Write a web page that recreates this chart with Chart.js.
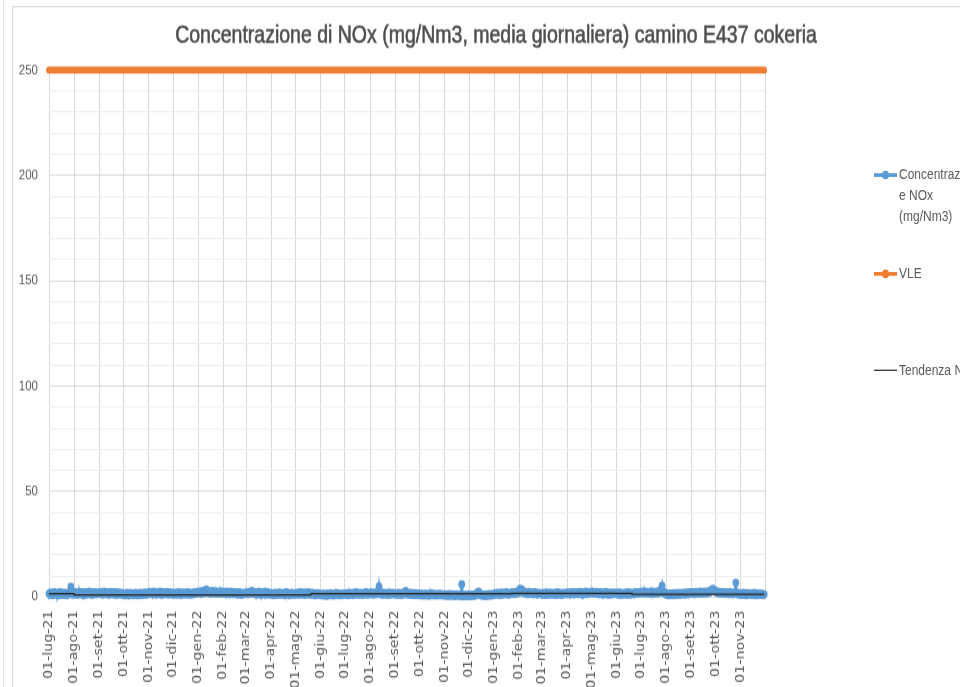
<!DOCTYPE html>
<html>
<head>
<meta charset="utf-8">
<title>Concentrazione di NOx camino E437 cokeria</title>
<script src="https://cdn.jsdelivr.net/npm/chart.js@4.4.1/dist/chart.umd.min.js"></script>
<style>
html,body{margin:0;padding:0;background:#fff;overflow:hidden;width:960px;height:687px;}
/* the original screenshot is stretched vertically, so the whole sheet is drawn flatter and scaled */
#stage{position:absolute;left:0;top:0;width:960px;height:563px;transform:scaleY(1.22);transform-origin:0 0;}
#sideLine{position:absolute;left:3px;top:0;width:1px;height:600px;background:#e3e3e3;}
#frame{position:absolute;left:12px;top:5px;width:1000px;height:700px;border:1px solid #d9d9d9;}
#chart{position:absolute;left:0;top:0;}
#legend{position:absolute;left:0;top:0;font-family:"Liberation Sans",Arial,sans-serif;font-size:12px;color:#595959;}
.item{position:absolute;left:874px;white-space:nowrap;line-height:16.8px;}
.sym{position:absolute;left:0;top:8.4px;width:23px;}
.sym .ln{position:absolute;left:0;width:23px;}
.sym .dot{position:absolute;left:8px;top:-3.5px;width:7px;height:7px;border-radius:50%;}
.txt{position:absolute;left:25px;top:0;}
</style>
</head>
<body>
<div id="stage">
  <div id="sideLine"></div>
  <div id="frame"></div>
  <canvas id="chart" width="960" height="563"></canvas>
  <div id="legend"></div>
</div>
<script>
const chartTitle = 'Concentrazione di NOx (mg/Nm3, media giornaliera) camino E437 cokeria';

// first day of the series: 01-lug-21, one value per day up to 30-nov-23
const startYear = 2021;
const startMonth = 6;

const monthLabels = ['01-lug-21','01-ago-21','01-set-21','01-ott-21','01-nov-21','01-dic-21',
  '01-gen-22','01-feb-22','01-mar-22','01-apr-22','01-mag-22','01-giu-22','01-lug-22','01-ago-22',
  '01-set-22','01-ott-22','01-nov-22','01-dic-22','01-gen-23','01-feb-23','01-mar-23','01-apr-23',
  '01-mag-23','01-giu-23','01-lug-23','01-ago-23','01-set-23','01-ott-23','01-nov-23'];

const noxDaily = [
  1.6,1.2,2.1,1.4,0.9,1.8,1.5,2.2,1.1,1.7,1.3,0.8,1.9,1.6,2.3,1.2,1.4,1.0,1.8,2.0,1.3,1.6,0.9,1.5,2.1,1.7,1.4,4.8,2.0,1.2,1.6, // lug-21
  1.9,1.4,2.2,1.7,1.1,2.0,1.6,2.4,1.3,1.8,2.1,1.5,0.9,1.7,2.3,1.9,1.2,1.6,2.0,2.5,1.4,1.8,1.1,1.7,2.2,1.5,1.9,1.3,2.1,1.6,1.8, // ago-21
  2.0,1.5,2.3,1.7,1.2,2.1,2.6,1.8,1.4,2.2,1.6,1.9,1.1,1.7,2.4,1.5,2.0,1.3,1.8,2.2,1.6,1.0,1.7,2.1,1.4,1.9,1.2,1.6,2.0,1.5, // set-21
  1.3,0.8,1.6,1.1,1.9,1.4,0.7,1.5,1.2,1.8,1.0,1.4,0.9,1.7,1.3,2.0,1.1,1.5,0.8,1.6,1.2,1.9,1.4,1.0,1.7,1.3,2.1,1.5,1.1,1.8,1.4, // ott-21
  1.9,2.4,1.6,2.2,1.3,1.8,2.6,1.5,2.0,1.2,1.7,2.3,1.4,1.9,2.5,1.6,1.1,1.8,2.2,1.5,2.0,1.3,1.7,2.4,1.6,1.2,1.9,1.5,2.1,1.4, // nov-21
  1.7,1.2,2.0,1.5,1.9,1.1,1.6,2.2,1.4,1.8,1.0,1.5,2.1,1.3,1.7,1.9,1.2,1.6,2.3,1.4,1.8,1.1,1.5,2.0,1.6,1.3,1.9,2.2,1.5,1.7,2.4, // dic-21
  2.1,2.6,1.8,2.3,1.6,2.8,2.2,1.9,2.5,2.9,3.6,2.4,2.0,2.7,1.7,2.2,2.5,1.9,2.8,2.1,1.6,2.4,2.0,2.6,1.8,2.3,1.5,2.1,2.7,1.9,2.2, // gen-22
  1.8,2.4,1.5,2.0,2.6,1.7,2.2,1.3,1.9,2.5,1.6,2.1,1.4,1.8,2.3,1.5,2.0,1.2,1.7,2.2,1.4,1.9,1.1,1.6,2.0,1.3,1.8,1.5, // feb-22
  1.6,2.1,1.3,1.8,2.4,1.5,2.0,2.8,2.5,1.9,2.3,1.4,1.7,2.2,1.2,1.8,2.6,1.5,2.0,1.1,1.7,2.3,1.4,1.9,2.5,1.6,1.2,1.8,2.1,1.3,1.7, // mar-22
  1.2,1.8,1.4,0.9,1.6,2.0,1.3,1.7,1.0,1.5,2.1,1.4,1.8,1.1,1.6,1.3,1.9,1.0,1.5,2.2,1.2,1.7,1.4,0.9,1.6,2.0,1.3,1.8,1.1,1.5, // apr-22
  1.8,1.3,2.0,1.5,1.1,1.7,2.3,1.4,1.9,1.2,1.6,2.1,1.0,1.5,1.8,1.3,2.2,1.6,1.1,1.7,1.4,1.9,1.2,1.5,0.9,1.6,1.3,1.8,1.0,1.4,1.2, // mag-22
  1.0,1.4,0.7,1.2,1.6,0.9,1.3,0.6,1.1,1.5,0.8,1.2,1.7,1.0,1.4,0.7,1.1,1.5,0.9,1.3,1.8,1.0,1.2,0.8,1.5,1.1,1.4,0.9,1.6,1.2, // giu-22
  1.5,1.1,1.8,1.3,0.9,1.6,2.0,1.2,1.7,1.4,1.0,1.9,1.3,1.6,2.2,1.1,1.5,1.8,1.2,1.4,2.0,1.6,1.0,1.7,1.3,1.9,2.3,1.5,1.2,1.8,1.4, // lug-22
  1.7,2.1,1.4,1.9,1.2,1.6,2.0,1.3,1.8,2.2,1.5,5.0,1.9,1.4,1.7,1.1,1.6,2.0,1.3,1.8,1.5,1.0,1.7,2.1,1.4,1.2,1.8,1.5,1.9,1.3,1.6, // ago-22
  1.4,1.8,1.1,1.6,2.0,1.3,1.7,1.0,1.5,1.9,1.2,1.6,2.4,2.9,1.8,1.4,1.1,1.7,1.3,1.9,1.0,1.5,1.2,1.8,1.4,0.9,1.6,1.3,1.7,1.1, // set-22
  1.2,0.8,1.5,1.0,1.3,0.7,1.6,1.1,0.9,1.4,1.2,0.6,1.3,1.0,1.7,0.8,1.2,1.5,0.9,1.1,1.4,0.7,1.0,1.3,0.8,1.6,1.1,0.9,1.2,0.7,1.0, // ott-22
  0.9,1.3,0.6,1.1,0.8,1.4,0.5,1.0,1.2,0.7,1.3,0.9,0.4,1.1,0.8,1.2,0.6,1.0,0.7,1.3,0.5,6.0,0.8,0.4,1.0,0.6,0.9,0.3,0.7,1.1, // nov-22
  0.6,1.0,0.4,0.8,1.1,0.5,0.9,1.2,0.7,1.4,1.8,2.3,2.6,1.5,1.0,0.7,1.2,0.8,1.1,0.5,0.9,1.3,0.6,1.0,0.8,1.4,1.1,0.7,1.2,0.9,1.3, // dic-22
  1.5,1.1,1.8,1.3,2.0,1.4,1.7,1.0,1.6,2.1,1.2,1.5,1.9,1.3,1.7,2.2,1.4,1.8,1.1,1.6,2.0,1.5,1.9,2.3,1.7,1.4,2.1,1.6,2.4,1.8,2.2, // gen-23
  3.2,3.8,2.9,3.5,2.4,2.0,2.6,1.8,2.2,1.6,2.0,1.4,1.9,2.3,1.5,1.8,2.1,1.3,1.7,2.2,1.6,1.9,1.2,1.8,2.0,1.5,1.7,1.3, // feb-23
  1.6,1.2,1.9,1.4,1.0,1.7,2.1,1.3,1.8,1.1,1.5,2.0,1.4,1.7,1.2,1.9,1.5,1.0,1.6,2.2,1.3,1.8,1.1,1.5,1.9,1.4,1.2,1.7,2.0,1.5,1.8, // mar-23
  1.9,1.4,2.1,1.6,1.2,1.8,2.2,1.5,1.9,1.3,1.7,2.3,1.6,2.0,1.4,1.8,2.4,1.5,1.9,1.2,1.7,2.1,1.6,2.5,1.9,1.4,2.0,1.7,2.2,1.8, // apr-23
  2.6,2.2,1.8,2.3,1.5,1.9,2.4,1.6,2.0,1.3,1.8,2.2,1.5,1.9,1.2,1.7,2.1,1.4,1.8,2.3,1.6,1.1,1.7,2.0,1.4,1.9,1.3,1.6,2.1,1.5,1.8, // mag-23
  1.4,1.9,1.2,1.7,2.1,1.5,1.0,1.8,1.3,1.6,2.0,1.4,1.9,1.1,1.7,2.2,1.5,1.2,1.8,1.4,2.0,1.6,1.3,1.9,2.3,1.7,1.5,2.1,1.8,2.4, // giu-23
  2.0,2.5,1.7,2.2,1.9,2.6,1.6,2.1,2.4,1.8,2.3,1.5,2.0,2.7,1.9,2.2,1.6,2.4,2.0,1.7,2.5,1.8,2.3,2.9,2.6,3.1,5.3,2.4,1.9,2.2,1.7, // lug-23
  1.4,1.0,1.6,1.2,0.8,1.5,1.1,1.7,0.9,1.3,1.8,1.2,1.5,1.0,1.6,1.9,1.3,1.7,1.1,1.4,2.0,1.5,1.8,1.2,1.6,2.1,1.4,1.9,1.3,1.7,2.2, // ago-23
  1.8,2.3,1.6,2.0,1.4,1.9,2.4,1.7,2.1,1.5,2.0,2.5,1.8,2.2,1.6,2.1,2.6,1.9,2.3,1.7,2.2,2.7,2.0,2.5,2.9,3.3,3.6,3.8,3.4,3.0, // set-23
  2.7,2.3,2.0,2.5,1.8,2.2,1.6,2.1,2.4,1.7,2.0,1.5,1.9,2.3,1.6,2.0,1.4,1.8,2.2,1.5,1.9,1.3,1.7,2.1,1.6,6.8,1.8,1.4,1.9,1.2,1.6, // ott-23
  1.3,1.7,1.0,1.5,1.9,1.2,1.6,0.9,1.4,1.8,1.1,1.5,1.3,1.7,1.0,1.6,1.2,1.9,1.4,0.8,1.5,1.1,1.7,1.3,1.0,1.6,1.2,1.4,0.9,1.3  // nov-23
];

const vleValue = 250;

// trend line (day index from 01-lug-21, level)
const trendDays   = [0,   31,  323, 571, 719, 848, 882];
const trendValues = [1.1, 1.5, 1.0, 1.5, 1.7, 1.3, 1.3];

const seriesNames = ['Concentrazione NOx (mg/Nm3)', 'VLE', 'Tendenza NOx'];
const blue = '#5b9bd5', orange = '#ed7d31', dark = '#262626';

// day offset of every month start (plus the closing one, 01-dic-23)
const day0 = Date.UTC(startYear, startMonth, 1);
const monthDays = [];
for (let i = 0; i <= monthLabels.length; i++) {
  monthDays.push(Math.round((Date.UTC(startYear, startMonth + i, 1) - day0) / 86400000));
}
const xMax = monthDays[monthDays.length - 1];

const titlePlugin = {
  id: 'sheetTitle',
  afterDraw(chart) {
    const c = chart.ctx;
    c.save();
    c.font = '19.5px "Liberation Sans", Arial, sans-serif';
    c.fillStyle = c.strokeStyle = '#4d4d4d';
    c.lineWidth = 0.5;
    c.textAlign = 'center';
    c.textBaseline = 'middle';
    c.fillText(chartTitle, 496, 29.5);
    c.strokeText(chartTitle, 496, 29.5);
    c.restore();
  }
};

new Chart(document.getElementById('chart').getContext('2d'), {
  type: 'line',
  data: {
    datasets: [
      {
        label: seriesNames[0],
        data: noxDaily.map((v, i) => ({x: i, y: v})),
        borderColor: blue, backgroundColor: blue,
        borderWidth: 2.6, pointRadius: 3.4, pointBorderWidth: 0,
        pointBackgroundColor: blue, clip: false, order: 2
      },
      {
        label: seriesNames[1],
        data: [{x: 0, y: vleValue}, {x: noxDaily.length - 1, y: vleValue}],
        borderColor: orange, backgroundColor: orange,
        borderWidth: 5.8, borderCapStyle: 'round', pointRadius: 0, clip: false, order: 1
      },
      {
        label: seriesNames[2],
        data: trendDays.map((d, i) => ({x: d, y: trendValues[i]})),
        borderColor: dark, borderWidth: 1.2, pointRadius: 0, stepped: 'after', order: 0
      }
    ]
  },
  options: {
    responsive: false,
    animation: false,
    layout: { padding: { top: 57.4, right: 195, bottom: 0, left: 0 } },
    plugins: { legend: { display: false }, tooltip: { enabled: false }, title: { display: false } },
    scales: {
      x: {
        type: 'linear', min: 0, max: xMax,
        afterBuildTicks: (scale) => { scale.ticks = monthDays.map(d => ({value: d})); },
        afterFit: (scale) => { scale.height = 73.7; },
        border: { display: false },
        grid: { color: '#d9d9d9', drawTicks: false },
        ticks: {
          autoSkip: false, minRotation: 90, maxRotation: 90, padding: 11,
          color: '#595959', font: { family: 'DejaVu Sans', size: 11.7 },
          callback: (v, i) => monthLabels[i] || ''
        }
      },
      y: {
        min: 0, max: 250,
        afterFit: (scale) => { scale.width = 49; },
        border: { display: false },
        grid: {
          drawTicks: false,
          color: (ctx) => ctx.tick.value % 50 === 0 ? '#d9d9d9' : '#eeeeee'
        },
        ticks: {
          stepSize: 10, padding: 11, autoSkip: false,
          color: '#595959', font: { family: 'Liberation Sans', size: 11.5 },
          callback: (v) => v % 50 === 0 ? v : ''
        }
      }
    }
  },
  plugins: [titlePlugin]
});

// legend at the right, as in the sheet (clipped by the window edge)
const legendLines = [['Concentrazion', 'e NOx', '(mg/Nm3)'], ['VLE'], ['Tendenza NOx']];
const legendColors = [blue, orange, dark];
const legendTops = [135, 216.2, 294.9];
const legend = document.getElementById('legend');
legendLines.forEach((lines, i) => {
  const item = document.createElement('div');
  item.className = 'item';
  item.style.top = legendTops[i] + 'px';
  item.title = seriesNames[i];
  const thick = i === 2 ? 1 : 2.5;
  item.innerHTML = `
    <div class="sym">
      <div class="ln" style="top:${-thick / 2}px;height:${thick}px;background:${legendColors[i]}"></div>
      ${i < 2 ? `<div class="dot" style="background:${legendColors[i]}"></div>` : ''}
    </div>
    <div class="txt">${lines.join('<br>')}</div>`;
  legend.appendChild(item);
});
</script>
</body>
</html>
